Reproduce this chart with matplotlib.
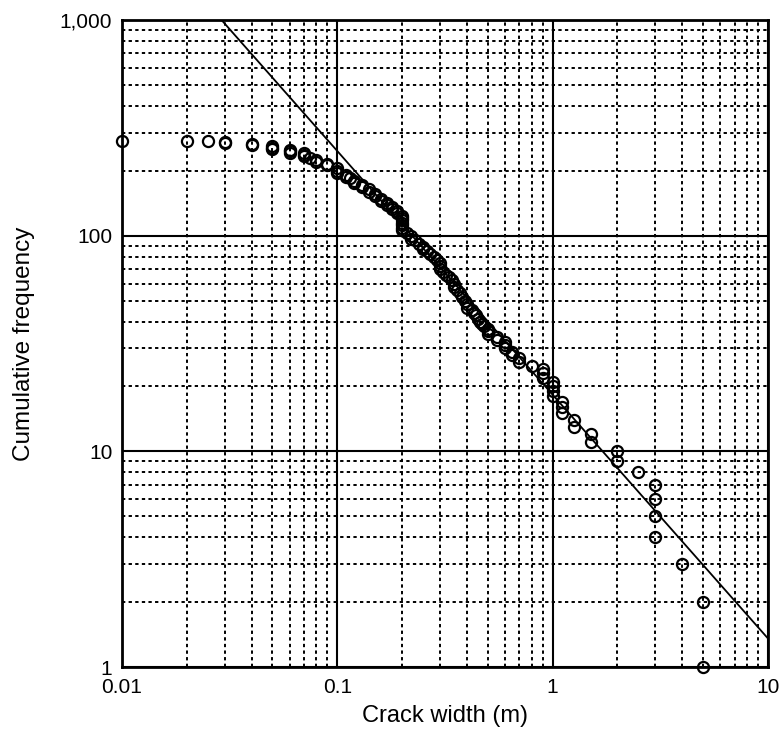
import matplotlib
matplotlib.use("Agg")
import matplotlib.pyplot as plt
from matplotlib.ticker import LogLocator, FixedLocator, FixedFormatter, NullFormatter

plt.rcParams['font.family'] = ['Liberation Sans', 'DejaVu Sans']

# crack width (m) and cumulative frequency
crack_width = [0.01, 0.02, 0.025, 0.03, 0.03, 0.04, 0.04, 0.05, 0.05, 0.05,
               0.06, 0.06, 0.06, 0.07, 0.07, 0.07, 0.075, 0.08, 0.08, 0.09,
               0.09, 0.1, 0.1, 0.1, 0.11, 0.11, 0.115, 0.12, 0.12, 0.13,
               0.13, 0.14, 0.14, 0.15, 0.15, 0.16, 0.16, 0.17, 0.17, 0.18,
               0.18, 0.19, 0.19, 0.2, 0.2, 0.2, 0.2, 0.2, 0.2, 0.2,
               0.21, 0.22, 0.22, 0.23, 0.24, 0.25, 0.25, 0.26, 0.27, 0.28,
               0.29, 0.3, 0.3, 0.3, 0.31, 0.32, 0.33, 0.34, 0.35, 0.35,
               0.36, 0.37, 0.38, 0.39, 0.4, 0.4, 0.42, 0.43, 0.44, 0.45,
               0.46, 0.47, 0.48, 0.5, 0.5, 0.5, 0.55, 0.55, 0.6, 0.6,
               0.6, 0.65, 0.65, 0.7, 0.7, 0.8, 0.9, 0.9, 0.9, 1.0,
               1.0, 1.0, 1.0, 1.1, 1.1, 1.1, 1.25, 1.25, 1.5, 1.5,
               2.0, 2.0, 2.5, 3.0, 3.0, 3.0, 3.0, 4.0, 5.0, 5.0]
cum_freq = [275, 275, 275, 272, 268, 266, 263, 260, 256, 253,
            250, 246, 243, 241, 237, 233, 229, 225, 220, 216,
            212, 205, 200, 196, 192, 188, 185, 180, 176, 172,
            168, 164, 160, 156, 152, 148, 145, 142, 139, 136,
            133, 130, 127, 124, 121, 118, 115, 112, 109, 106,
            103, 100, 97, 95, 92, 89, 87, 85, 82, 80,
            77, 75, 72, 70, 68, 66, 64, 62, 60, 58,
            56, 54, 52, 50, 48, 46, 45, 44, 43, 41,
            40, 39, 38, 37, 36, 35, 34, 33, 32, 31,
            30, 29, 28, 27, 26, 25, 24, 23, 22, 21,
            20, 19, 18, 17, 16, 15, 14, 13, 12, 11,
            10, 9, 8, 7, 6, 5, 4, 3, 2, 1]

# power-law fit drawn through the data
fit_coef = 18.3
fit_exp = -1.13
fit_x = [0.02, 10]

x_ticks = [0.01, 0.1, 1, 10]
x_labels = ["0.01", "0.1", "1", "10"]
y_ticks = [1, 10, 100, 1000]
y_labels = ["1", "10", "100", "1,000"]

fig = plt.figure(figsize=(7.83, 7.39), dpi=100)
ax = fig.add_axes([0.1558, 0.0974, 0.8250, 0.8755])

ax.set_xscale('log')
ax.set_yscale('log')
ax.set_xlim(0.01, 10)
ax.set_ylim(1, 1000)

ax.grid(True, which='major', color='black', linestyle='-', linewidth=1.5)
ax.grid(True, which='minor', color='black', linestyle=(0, (1.7, 1.7)), linewidth=1.4)
ax.set_axisbelow(True)

fit_y = [fit_coef * v ** fit_exp for v in fit_x]
ax.plot(fit_x, fit_y, color='black', linewidth=1.3, zorder=3)

ax.plot(crack_width, cum_freq, linestyle='none', marker='o', markersize=8,
        markerfacecolor='none', markeredgecolor='black', markeredgewidth=1.6,
        zorder=4, clip_on=False)

ax.xaxis.set_major_locator(FixedLocator(x_ticks))
ax.xaxis.set_major_formatter(FixedFormatter(x_labels))
ax.yaxis.set_major_locator(FixedLocator(y_ticks))
ax.yaxis.set_major_formatter(FixedFormatter(y_labels))
ax.xaxis.set_minor_locator(LogLocator(base=10, subs=range(2, 10)))
ax.yaxis.set_minor_locator(LogLocator(base=10, subs=range(2, 10)))
ax.xaxis.set_minor_formatter(NullFormatter())
ax.yaxis.set_minor_formatter(NullFormatter())

ax.tick_params(which='both', length=0, labelsize=15)
ax.tick_params(axis='x', pad=8)
ax.tick_params(axis='y', pad=7)

for s in ax.spines.values():
    s.set_linewidth(2)
    s.set_zorder(5)

ax.set_xlabel("Crack width (m)", fontsize=17, labelpad=6)
ax.set_ylabel("Cumulative frequency", fontsize=17.5, labelpad=18)

fig.savefig("out.png", dpi=100)
